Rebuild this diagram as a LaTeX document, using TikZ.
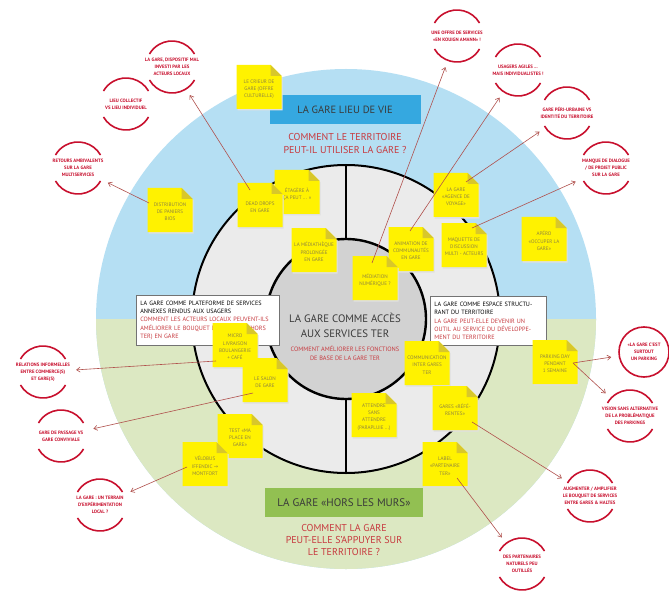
\documentclass[tikz,border=0pt]{standalone}
\usepackage{fontspec}
\setmainfont{PT Sans}
\newfontfamily\symfont{DejaVu Sans}
\usetikzlibrary{arrows.meta, calc}
\definecolor{cyellow}{HTML}{FFF200}
\definecolor{cfold}{HTML}{D8C72A}
\definecolor{cink}{HTML}{8F8440}
\definecolor{cred}{HTML}{C8102E}
\definecolor{cqred}{HTML}{C73A3F}
\definecolor{clink}{HTML}{B0504C}
\definecolor{csky}{HTML}{B5DFF3}
\definecolor{cmeadow}{HTML}{DCE8C2}
\definecolor{cbar}{HTML}{35A8E0}
\definecolor{cgbar}{HTML}{92C052}
\definecolor{cring}{HTML}{EBEBEB}
\definecolor{chub}{HTML}{D2D2D2}
\definecolor{cdark}{HTML}{3A3A3A}
\tikzset{
  every picture/.style={x=1pt, y=-1pt},
  note/.style={text=cink, align=center, font=\fontsize{5.1}{7.2}\selectfont, inner sep=0pt},
  remark/.style={circle, minimum size=66pt, inner sep=0pt, text=cred, align=center, font=\fontsize{4.8}{7}\selectfont\bfseries},
  ring/.style={draw=cred, line width=1.6pt},
  link/.style={draw=clink, line width=0.6pt, -{Straight Barb[length=3.5pt, width=5pt]}},
  bar/.style={minimum height=29pt, text=cdark, font=\fontsize{10.5}{12}\selectfont},
  question/.style={text=cqred, align=center, font=\fontsize{10}{13}\selectfont},
  frame/.style={draw=black!55, fill=white, line width=0.7pt, align=left, anchor=north west, inner sep=4pt, font=\fontsize{6.2}{8.4}\selectfont},
}
% yellow sticky note: name, centre x, centre y, text
\newcommand{\postit}[4]{%
  \fill[black!12] ({#2-21.5},{#3-20}) -- ({#2+23.5},{#3-10}) -- ({#2+23.5},{#3+23.5}) -- ({#2-21.5},{#3+23.5}) -- cycle;
  \fill[cyellow] ({#2-22.5},{#3-22}) -- ({#2+11.5},{#3-22}) -- ({#2+22.5},{#3-11}) -- ({#2+22.5},{#3+22}) -- ({#2-22.5},{#3+22}) -- cycle;
  \fill[cfold] ({#2+11.5},{#3-22}) -- ({#2+11.5},{#3-11}) -- ({#2+22.5},{#3-11}) -- cycle;
  \node[note] (#1) at ({#2},{#3+2}) {#4};}
% red comment bubble, open at both sides
\newcommand{\critique}[4]{%
  \node[remark] (#1) at (#2,#3) {#4};
  \draw[ring] ($(#1.center)+(30:26pt)$) arc[start angle=30, end angle=150, radius=26pt];
  \draw[ring] ($(#1.center)+(210:26pt)$) arc[start angle=210, end angle=330, radius=26pt];}
\begin{document}
\begin{tikzpicture}
  \useasboundingbox (0,0) rectangle (669,596);
  \fill[white] (0,0) rectangle (669,596);
  \coordinate (o) at (346,319);
  % disc and rings
  \fill[csky] (o) circle[radius=250pt];
  \fill[cmeadow] ($(o)+(-250pt,0)$) arc[start angle=180, end angle=360, radius=250pt] -- cycle;
  \node[circle, draw, line width=2pt, fill=cring, minimum size=308pt, inner sep=0pt] (ring) at (o) {};
  \node[circle, draw, line width=2.4pt, fill=chub, minimum size=160pt, inner sep=0pt] (hub) at (o) {};
  \draw[line width=2pt] (hub.north) -- (ring.north);
  \draw[line width=2pt] (hub.south) -- (ring.south);
  % titles
  \node[bar, fill=cbar, minimum width=151pt] (vie) at (345,109.5) {LA GARE LIEU DE VIE};
  \node[question] (q-vie) at (345,144) {COMMENT LE TERRITOIRE\\PEUT-IL UTILISER LA GARE ?};
  \node[bar, fill=cgbar, minimum width=158pt, font=\fontsize{11}{12}\selectfont] (murs) at (344,502.5) {LA GARE «HORS LES MURS»};
  \node[question, font=\fontsize{10}{12}\selectfont] (q-murs) at (344,540) {COMMENT LA GARE\\PEUT-ELLE S'APPUYER SUR\\LE TERRITOIRE ?};
  \node[text=cdark, align=center, font=\fontsize{10.8}{15}\selectfont] (hub-title) at (345,325) {LA GARE COMME ACCÈS\\AUX SERVICES TER};
  \node[text=cqred, align=center, font=\fontsize{6.3}{9}\selectfont] (hub-q) at (345,353) {COMMENT AMÉLIORER LES FONCTIONS\\DE BASE DE LA GARE TER};
  % upper stickies
  \postit{crieur}{259}{87}{LE CRIEUR DE\\GARE (OFFRE\\CULTURELLE)}
  \postit{paniers}{170}{210}{DISTRIBUTION\\DE PANIERS\\BIOS}
  \postit{etagere}{297}{192}{ÉTAGÈRE À\\ÇA PEUT ... »}
  \postit{deaddrops}{260}{205}{DEAD DROPS\\EN GARE}
  \postit{mediatheque}{314}{250}{LA MÉDIATHÈQUE\\PROLONGÉE\\EN GARE}
  \postit{animation}{411}{249}{ANIMATION DE\\COMMUNAUTÉS\\EN GARE}
  \postit{mediation}{375}{278}{MÉDIATION\\NUMÉRIQUE ?}
  \postit{agence}{456}{195}{LA GARE\\«AGENCE DE\\VOYAGE»}
  \postit{maquette}{464}{245}{MAQUETTE DE\\DISCUSSION\\MULTI - ACTEURS}
  \postit{apero}{544}{239}{APÉRO\\«OCCUPER LA\\GARE»}
  % side frames
  \node[frame, text width=135pt, minimum height=50pt] (plateforme) at (136,295) {LA GARE COMME PLATEFORME DE SERVICES\\ANNEXES RENDUS AUX USAGERS\\\textcolor{cqred}{COMMENT LES ACTEURS LOCAUX PEUVENT-ILS}\\\textcolor{cqred}{AMÉLIORER LE BOUQUET DE SERVICES (HORS}\\\textcolor{cqred}{TER) EN GARE}};
  \node[frame, text width=108pt, minimum height=49pt] (espace) at (430,296) {LA GARE COMME ESPACE STRUCTU-\\RANT DU TERRITOIRE\\\textcolor{cqred}{LA GARE PEUT-ELLE DEVENIR UN}\\\textcolor{cqred}{OUTIL AU SERVICE DU DÉVELOPPE-}\\\textcolor{cqred}{MENT DU TERRITOIRE}};
  % lower stickies
  \postit{micro}{235}{345}{MICRO\\LIVRAISON\\BOULANGERIE\\+ CAFÉ}
  \postit{salon}{265}{380}{LE SALON\\DE GARE}
  \postit{communication}{427}{363}{COMMUNICATION\\INTER GARES\\TER}
  \postit{parkingday}{555}{362}{PARKING DAY\\PENDANT\\1 SEMAINE}
  \postit{attendre}{374}{415}{ATTENDRE\\SANS\\ATTENDRE\\(PARAPLUIE ...)}
  \postit{referentes}{455}{408}{GARES «RÉFÉ-\\RENTES»}
  \postit{test}{240}{436}{TEST «MA\\PLACE EN\\GARE»}
  \postit{velobus}{205}{464}{VÉLOBUS\\IFFENDIC {\symfont →}\\MONTFORT}
  \postit{label}{445}{464}{LABEL\\«PARTENAIRE\\TER»}
  % red comments
  \critique{c-dispositif}{172}{67}{LA GARE, DISPOSITIF MAL\\INVESTI PAR LES\\ACTEURS LOCAUX}
  \critique{c-collectif}{126}{104}{LIEU COLLECTIF\\VS LIEU INDIVIDUEL}
  \critique{c-retours}{78}{168}{RETOURS AMBIVALENTS\\SUR LA GARE\\MULTISERVICES}
  \critique{c-offre}{457}{36}{UNE OFFRE DE SERVICES\\«EN KOUIGN AMANN» !}
  \critique{c-usagers}{518}{70}{USAGERS AGILES ...\\MAIS INDIVIDUALISTES !}
  \critique{c-periurbaine}{567}{113}{GARE PÉRI-URBAINE VS\\IDENTITÉ DU TERRITOIRE}
  \critique{c-dialogue}{606}{168}{MANQUE DE DIALOGUE\\/ DE PROJET PUBLIC\\SUR LA GARE}
  \node[remark] (c-parking) at (644,352) {«LA GARE C'EST\\SURTOUT\\UN PARKING};
  \draw[ring] (c-parking.center) circle[radius=25pt];
  \critique{c-vision}{630}{416}{VISION SANS ALTERNATIVE\\DE LA PROBLÉMATIQUE\\DES PARKINGS}
  \critique{c-bouquet}{590}{496}{AUGMENTER / AMPLIFIER\\LE BOUQUET DE SERVICES\\ENTRE GARES \& HALTES}
  \critique{c-partenaires}{522}{564}{DES PARTENAIRES\\NATURELS PEU\\OUTILLÉS}
  \critique{c-relations}{43}{372}{RELATIONS INFORMELLES\\ENTRE COMMERCE(S)\\ET GARE(S)}
  \critique{c-passage}{61}{436}{GARE DE PASSAGE VS\\GARE CONVIVIALE}
  \critique{c-terrain}{100}{505}{LA GARE : UN TERRAIN\\D'EXPÉRIMENTATION\\LOCAL ?}
  % connectors
  \coordinate (pin-paniers) at (149,203);
  \coordinate (pin-deaddrops) at (250,190);
  \coordinate (pin-mediation) at (372,263);
  \coordinate (pin-animation) at (410,231);
  \coordinate (pin-agence) at (466,182);
  \coordinate (pin-maquette) at (472,228);
  \coordinate (pin-parkingday) at (573,363);
  \coordinate (pin-referentes) at (472,422);
  \coordinate (pin-label) at (457,478);
  \coordinate (pin-micro) at (216,361);
  \coordinate (pin-salon) at (253,393);
  \coordinate (pin-velobus) at (187,467);
  \draw[link] (pin-paniers) -- (c-retours);
  \draw[link] (pin-deaddrops) -- (c-dispositif);
  \draw[link] (pin-mediation) -- (c-offre);
  \draw[link] (pin-animation) -- (c-usagers);
  \draw[link] (pin-agence) -- (c-periurbaine);
  \draw[link] (pin-maquette) -- (c-dialogue);
  \draw[link] (pin-parkingday) -- (c-parking);
  \draw[link] (pin-parkingday) -- (c-vision);
  \draw[link] (pin-referentes) -- (c-bouquet);
  \draw[link] (pin-label) -- (c-partenaires);
  \draw[link] (pin-micro) -- (c-relations);
  \draw[link] (pin-salon) -- (c-passage);
  \draw[link] (pin-velobus) -- (c-terrain);
\end{tikzpicture}
\end{document}
